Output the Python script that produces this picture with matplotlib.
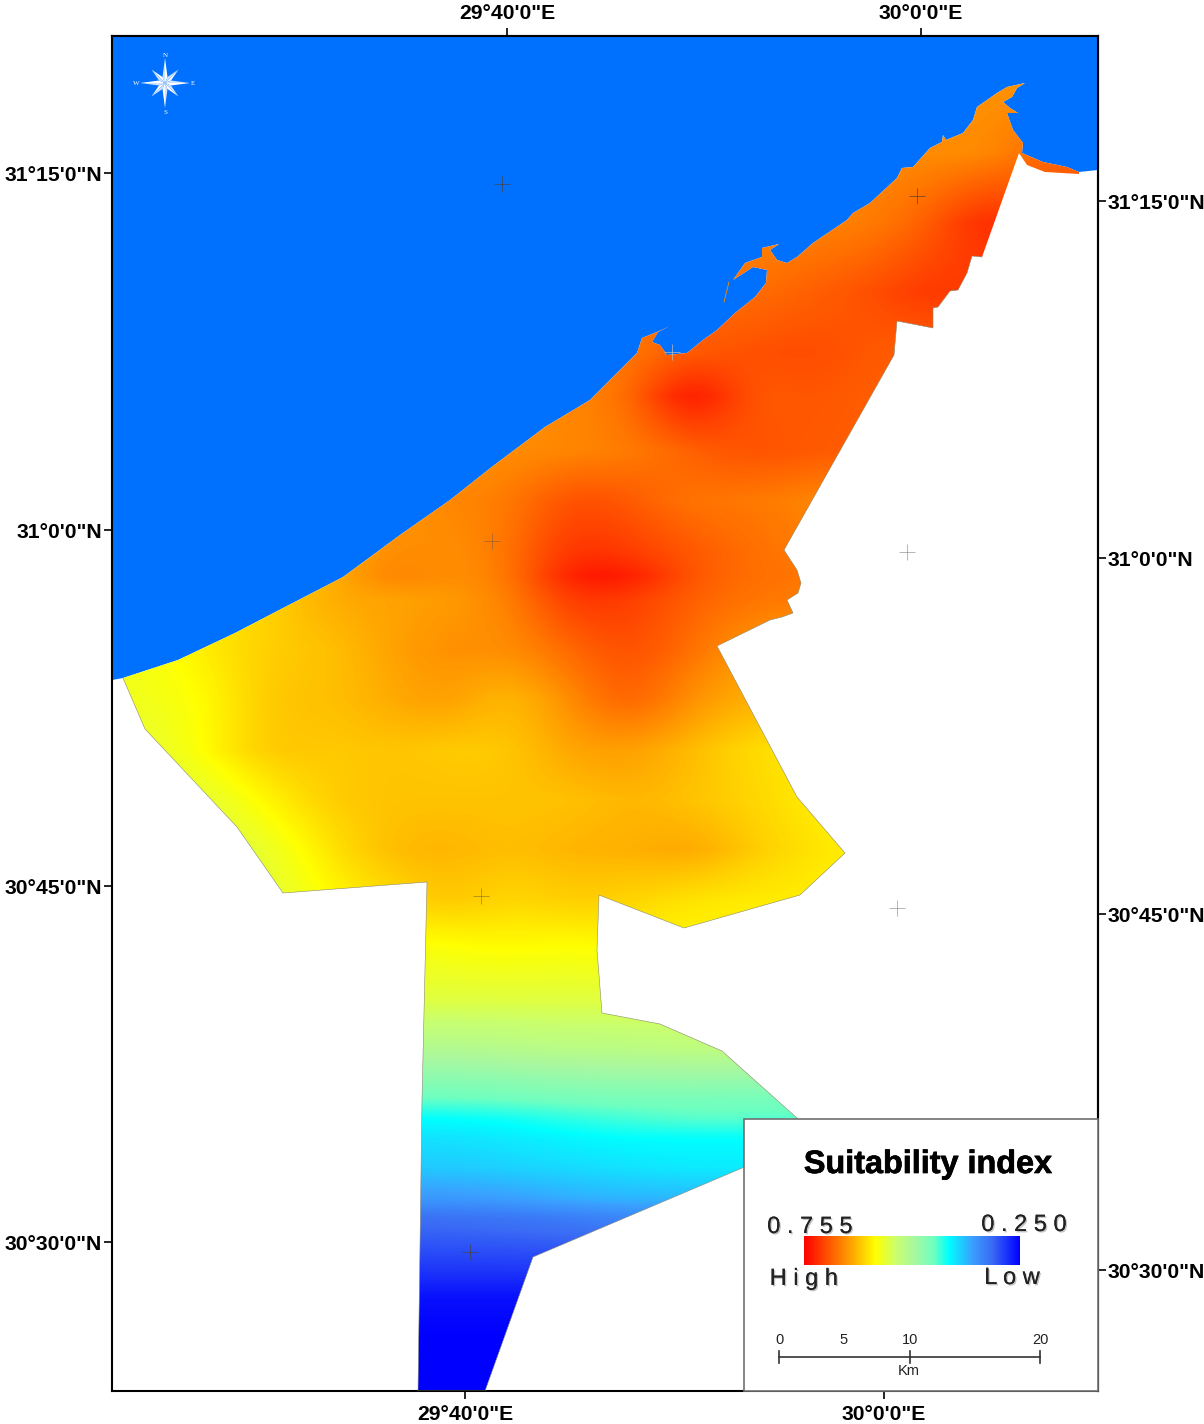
import numpy as np
import matplotlib
matplotlib.use("Agg")
import matplotlib.pyplot as plt
from matplotlib.colors import LinearSegmentedColormap
from matplotlib.patches import Polygon, Rectangle
import matplotlib.patheffects as pe

plt.rcParams["font.family"] = ["Liberation Sans", "DejaVu Sans"]

# map units are the scanned sheet's own x / y
grid_x = [150, 210, 270, 330, 390, 450, 510, 570, 630, 690, 750, 810, 870, 930, 990, 1050, 1110]
grid_y = [80, 150, 220, 290, 350, 395, 450, 500, 550, 575, 600, 650, 700, 750, 800, 850, 900, 950, 1000, 1050,
          1100, 1120, 1140, 1170, 1200, 1220, 1270, 1300, 1340, 1390]

# suitability index (cells outside the land just repeat a neighbour)
row_0080 = [.655] * 17
row_0150 = [.66, .66, .66, .66, .66, .66, .66, .66, .66, .66, .66, .66, .66, .66, .66, .69, .69]
row_0220 = [.66, .66, .66, .66, .66, .66, .66, .66, .66, .66, .66, .665, .67, .69, .735, .70, .69]
row_0290 = [.66, .66, .66, .66, .66, .66, .66, .66, .67, .68, .68, .69, .70, .72, .71, .70, .70]
row_0350 = [.65, .65, .65, .65, .65, .66, .66, .665, .675, .695, .70, .705, .695, .69, .69, .69, .69]
row_0395 = [.65, .65, .65, .65, .65, .65, .65, .665, .675, .755, .69, .70, .69, .69, .69, .69, .69]
row_0450 = [.64, .64, .64, .64, .65, .655, .66, .665, .67, .69, .70, .695, .69, .69, .69, .69, .69]
row_0500 = [.62, .62, .62, .63, .65, .665, .67, .705, .695, .675, .675, .665, .66, .66, .66, .66, .66]
row_0550 = [.60, .60, .61, .63, .665, .655, .675, .725, .715, .695, .68, .67, .67, .67, .67, .67, .67]
row_0575 = [.60, .60, .61, .635, .67, .655, .67, .74, .74, .695, .68, .675, .67, .67, .67, .67, .67]
row_0600 = [.60, .60, .615, .64, .645, .65, .665, .72, .715, .69, .675, .67, .67, .67, .67, .67, .67]
row_0650 = [.58, .60, .62, .625, .645, .66, .655, .685, .705, .68, .65, .65, .65, .65, .65, .65, .65]
row_0700 = [.575, .59, .625, .625, .64, .65, .625, .66, .695, .655, .635, .63, .63, .63, .63, .63, .63]
row_0750 = [.565, .59, .625, .62, .625, .62, .62, .645, .65, .63, .61, .60, .60, .60, .60, .60, .60]
row_0800 = [.555, .565, .595, .62, .625, .625, .625, .625, .635, .625, .615, .60, .59, .59, .59, .59, .59]
row_0850 = [.55, .55, .57, .605, .63, .635, .625, .635, .635, .645, .62, .605, .595, .59, .59, .59, .59]
row_0900 = [.55, .55, .56, .59, .61, .625, .61, .62, .615, .605, .60, .60, .59, .59, .59, .59, .59]
row_0950 = [.56, .56, .56, .57, .58, .585, .59, .585, .59, .59, .59, .59, .59, .59, .59, .59, .59]
row_1000 = [.56] * 17
row_1050 = [.51, .51, .51, .51, .51, .51, .515, .52, .52, .525, .525, .525, .525, .525, .525, .525, .525]
row_1100 = [.45, .45, .45, .45, .45, .45, .453, .458, .46, .46, .458, .458, .458, .458, .458, .458, .458]
row_1120 = [.417, .417, .417, .417, .417, .417, .422, .432, .438, .445, .445, .445, .445, .445, .445, .445, .445]
row_1140 = [.40, .40, .40, .40, .40, .40, .405, .412, .417, .417, .417, .417, .417, .417, .417, .417, .417]
row_1170 = [.385, .385, .385, .385, .385, .385, .39, .395, .40, .405, .405, .405, .405, .405, .405, .405, .405]
row_1200 = [.355, .355, .355, .355, .355, .355, .36, .37, .375, .375, .375, .375, .375, .375, .375, .375, .375]
row_1220 = [.32, .32, .32, .32, .32, .32, .325, .33, .34, .34, .34, .34, .34, .34, .34, .34, .34]
row_1270 = [.285] * 17
row_1300 = [.26] * 17
row_1340 = [.25] * 17
row_1390 = [.25] * 17

# shoreline, west to east
coast_x = [123, 178, 235, 285, 343, 400, 450, 493, 545, 590, 620, 637, 642, 657, 670, 658, 652, 660, 667, 687,
           703, 717, 735, 755, 766, 767, 753, 733, 745, 762, 762, 779, 770, 777, 787, 797, 813, 847, 853, 870,
           897, 902, 913, 930, 942, 943, 946, 963, 973, 977, 987, 997, 1007, 1025, 1017, 1012, 1003, 1010, 1018,
           1007, 1013, 1023, 1022, 1043, 1067, 1079]
coast_y = [678, 660, 633, 607, 577, 535, 500, 466, 427, 400, 370, 353, 338, 332, 326, 332, 342, 345, 355, 353,
           340, 330, 313, 297, 283, 270, 267, 280, 263, 257, 248, 244, 250, 260, 263, 257, 243, 220, 213, 203,
           178, 168, 167, 148, 142, 135, 140, 133, 120, 107, 100, 93, 87, 83, 88, 97, 102, 108, 113,
           113, 130, 143, 153, 162, 167, 172]
# inland limit, continuing clockwise from the east end
inland_x = [1079, 1045, 1027, 1019, 982, 972, 967, 958, 950, 938, 933, 933, 897, 894, 784, 797, 801, 798, 787, 793,
            782, 770, 717, 797, 845, 800, 684, 599, 597, 602, 660, 722, 797, 815, 533, 485, 418, 422, 427, 283, 237, 145, 123]
inland_y = [174, 172, 165, 153, 257, 256, 273, 290, 291, 307, 308, 328, 321, 355, 550, 570, 583, 593, 600, 613,
            617, 620, 646, 797, 853, 895, 928, 895, 950, 1013, 1024, 1051, 1118, 1137, 1257, 1391, 1391, 1100, 882, 893, 827, 729, 678]

top_ticks = [507, 921]
bottom_ticks = [465, 884]
left_ticks = [173, 530, 886, 1242]
right_ticks = [201, 558, 914, 1270]
lon_labels = ["29°40'0\"E", "30°0'0\"E"]
lat_labels = ["31°15'0\"N", "31°0'0\"N", "30°45'0\"N", "30°30'0\"N"]

cross_x = [502, 917, 492, 907, 481, 897, 470, 672]
cross_y = [184, 196, 541, 552, 896, 908, 1252, 352]
cross_col = ["#444444", "#554433", "#a06030", "#999999", "#a08020", "#999999", "#444444", "#bbbbbb"]

cmap_pos = [0, .12, .22, .33, .43, .51, .60, .67, .78, .87, 1]
cmap_col = ["#ff0000", "#ff5a00", "#ffa500", "#ffff00", "#c8ff70", "#a8f8a0", "#70ffc0", "#00ffff",
            "#3aa0ff", "#3b6cf5", "#0000ff"]
index_cmap = LinearSegmentedColormap.from_list("suit", list(zip(cmap_pos, cmap_col)), N=512)

W, H = 1204, 1424
fig = plt.figure(figsize=(W / 100, H / 100), dpi=100)
ax = fig.add_axes([112 / W, 1 - 1391 / H, 986 / W, 1355 / H])

surface = np.array([row_0080, row_0150, row_0220, row_0290, row_0350, row_0395, row_0450, row_0500, row_0550, row_0575,
                    row_0600, row_0650, row_0700, row_0750, row_0800, row_0850, row_0900, row_0950, row_1000,
                    row_1050, row_1100, row_1120, row_1140, row_1170, row_1200, row_1220, row_1270, row_1300,
                    row_1340, row_1390])

# rows are not evenly spaced, so put them on a regular y first
fine_y = np.arange(grid_y[0], grid_y[-1] + 1, 5)
fine = np.array([np.interp(fine_y, grid_y, surface[:, j]) for j in range(len(grid_x))]).T

ax.add_patch(Polygon(list(zip(coast_x + [1098, 1098, 112, 112], coast_y + [170, 36, 36, 680])),
                     closed=True, fc="#0070ff", ec="none", zorder=1))

land = Polygon(list(zip(coast_x + inland_x, coast_y + inland_y)), closed=True, fc="none", ec="none", zorder=3)
ax.add_patch(land)
im = ax.imshow(fine, extent=[grid_x[0] - 30, grid_x[-1] + 30, fine_y[-1], fine_y[0]], cmap=index_cmap.reversed(),
               vmin=0.25, vmax=0.755, interpolation="bicubic", aspect="auto", zorder=2)
im.set_clip_path(land)
ax.plot(inland_x[4:], inland_y[4:], color="#8a8a70", lw=0.4, zorder=3)
ax.plot([724, 729], [302, 282], color="#ff8c00", lw=0.6, zorder=3)

for cx, cy, cc in zip(cross_x, cross_y, cross_col):
    ax.plot([cx], [cy], marker="+", ms=12, mew=0.5, color=cc, zorder=4)

# north arrow
star_cx, star_cy = 165, 83
for k in range(8):
    ang = np.pi / 4 * k
    r = 25 if k % 2 == 0 else 19
    tip = (star_cx + r * np.sin(ang), star_cy - r * np.cos(ang))
    for sgn, fc in ((1, "white"), (-1, "#cfe2ff")):
        side = (star_cx + 6.5 * np.sin(ang + sgn * np.pi / 8), star_cy - 6.5 * np.cos(ang + sgn * np.pi / 8))
        ax.add_patch(Polygon([(star_cx, star_cy), side, tip], closed=True, fc=fc, ec="none", zorder=5))
for lab, lx, ly in (("N", 165, 55), ("S", 165, 112), ("W", 136, 83), ("E", 193, 83)):
    ax.text(lx, ly, lab, color="white", fontsize=5, family="Liberation Serif", ha="center", va="center", zorder=5)

# legend box
ax.add_patch(Rectangle((744, 1119), 354, 272, fc="white", ec="#707070", lw=1.2, zorder=6, clip_on=False))
ax.text(928, 1165, "Suitability index", fontsize=23.3, fontweight="bold", ha="center", va="center", zorder=7,
        path_effects=[pe.withStroke(linewidth=0.5, foreground="black")])
ramp = np.linspace(0, 1, 512)[None, :]
ax.imshow(ramp, extent=[804, 1020, 1265, 1236], cmap=index_cmap, aspect="auto", zorder=7)
shadow = [pe.withSimplePatchShadow(offset=(1, -1), shadow_rgbFace="#aaaaaa", alpha=0.7), pe.Normal()]
for txt, tx, ty in (("0 . 7 5 5", 810, 1227), ("0 . 2 5 0", 1024, 1225), ("H i g h", 804, 1279), ("L o w", 1012, 1278)):
    ax.text(tx, ty, txt, fontsize=17, color="#222222", ha="center", va="center", zorder=7, path_effects=shadow)

ax.plot([779, 1040], [1357, 1357], color="#333333", lw=1.2, zorder=7)
for sx in (779, 910, 1040):
    ax.plot([sx, sx], [1351, 1363], color="#333333", lw=1.2, zorder=7)
for slab, sx in (("0", 779), ("5", 844), ("10", 910), ("20", 1040)):
    ax.text(sx, 1340, slab, fontsize=10.5, color="#222222", ha="center", va="center", zorder=7)
ax.text(909, 1371, "Km", fontsize=10.5, color="#222222", ha="center", va="center", zorder=7)

ax.set_xlim(112, 1098)
ax.set_ylim(1391, 36)

ax.set_xticks(bottom_ticks)
ax.set_xticklabels(lon_labels, fontsize=15.2, fontweight="bold")
ax.set_yticks(left_ticks)
ax.set_yticklabels(lat_labels, fontsize=15.2, fontweight="bold")
ax.tick_params(length=6, width=1.2, pad=1)
ax.tick_params(axis="x", pad=4)

top = ax.secondary_xaxis("top")
top.set_xticks(top_ticks)
top.set_xticklabels(lon_labels, fontsize=15.2, fontweight="bold")
top.tick_params(length=6, width=1.2, pad=3)
right = ax.secondary_yaxis("right")
right.set_yticks(right_ticks)
right.set_yticklabels(lat_labels, fontsize=15.2, fontweight="bold")
right.tick_params(length=6, width=1.2, pad=1)

for axis in (ax, top, right):
    for s in axis.spines.values():
        s.set_linewidth(1.5)

fig.savefig("out.png", dpi=100)
